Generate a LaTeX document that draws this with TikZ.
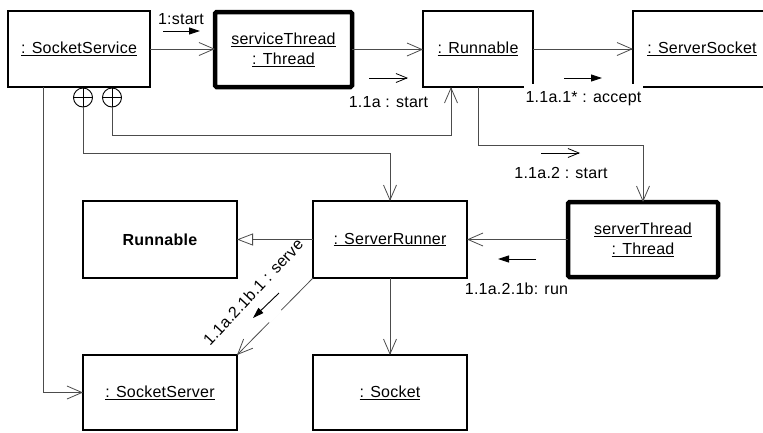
\documentclass[tikz,border=0pt]{standalone}
\usepackage{fontspec}
\setmainfont{Liberation Sans}[LetterSpace=1.5]
\usetikzlibrary{arrows.meta}
\tikzset{
  obj/.style={draw=black, line width=1.2pt, inner sep=0pt, outer sep=0pt, align=center, fill=white},
  thickobj/.style={obj, line width=4.5pt, rounded corners=1.5pt},
  conn/.style={draw=black!70, line width=0.8pt},
  openarr/.style={-{Straight Barb[length=15pt,width=13pt]}},
  msgfill/.style={draw=black, line width=0.9pt, -{Triangle[length=11pt,width=7pt]}},
  msgopen/.style={draw=black, line width=0.8pt, -{Straight Barb[length=11pt,width=9pt]}},
  lbl/.style={fill=white, inner sep=1.5pt},
  gen/.style={-{Triangle[open,length=16pt,width=12pt,fill=white]}},
  ball/.style={circle, draw=black, line width=0.9pt, minimum size=19pt, inner sep=0pt, outer sep=0pt, fill=white},
}
\begin{document}
\begin{tikzpicture}[x=1pt, y=-1pt, font=\fontsize{16}{20}\selectfont]
\useasboundingbox (0,0) rectangle (763,432);
\clip (0,0) rectangle (763,432);
\fill[white] (0,0) rectangle (763,432);

% objects
\node[obj, minimum width=142pt, minimum height=76pt] (ss) at (79,49) {\underline{: SocketService}};
\node[thickobj, minimum width=137pt, minimum height=75pt] (st) at (283.5,49.5) {\underline{serviceThread}\\\underline{: Thread}};
\node[obj, minimum width=110pt, minimum height=76pt] (rn) at (478,49) {\underline{: Runnable}};
\node[obj, minimum width=138pt, minimum height=76pt] (ssock) at (702,49) {\underline{: ServerSocket}};
\node[obj, minimum width=154pt, minimum height=77pt] (rc) at (160,239.5) {\textbf{Runnable}};
\node[obj, minimum width=154pt, minimum height=77pt] (sr) at (390,239.5) {\underline{: ServerRunner}};
\node[thickobj, minimum width=150pt, minimum height=75pt] (sth) at (643,239.5) {\underline{serverThread}\\\underline{: Thread}};
\node[obj, minimum width=154pt, minimum height=75pt] (ssv) at (160,392.5) {\underline{: SocketServer}};
\node[obj, minimum width=154pt, minimum height=75pt] (sk) at (390,392.5) {\underline{: Socket}};

% coordinates for bends and free ends
\coordinate (k1) at (83,153);
\coordinate (k2) at (112,135);
\coordinate (rnin) at (451,87);
\coordinate (ssout) at (43,87);
\coordinate (rnout) at (478,87);
\coordinate (k3) at (478,145);

% connectors
\draw[conn,openarr] (ss.east) -- (ss.east -| st.west);
\draw[conn,openarr] (st.east) -- (st.east -| rn.west);
\draw[conn,openarr] (rn.east) -- (ssock.west);
\draw[conn,openarr] (ssout) |- (ssv.west);
\draw[conn,openarr] (rnout) -- (k3) -| (sth.north);
\draw[conn,openarr] (sth.west) -- (sr.east);
\draw[conn,gen] (sr.west) -- (rc.east);
\draw[conn,openarr] (sr.south) -- (sk.north);
\draw[conn,openarr] (sr.south west) -- (ssv.north east);

% association ends (balls)
\node[ball] (b1) at (83,97.5) {};
\node[ball] (b2) at (112,97.5) {};
\draw[line width=0.9pt] (b1.north) -- (b1.south) (b1.west) -- (b1.east);
\draw[line width=0.9pt] (b2.north) -- (b2.south) (b2.west) -- (b2.east);
\draw[conn,openarr] (b1.south) -- (k1) -| (sr.north);
\draw[conn,openarr] (b2.south) -- (k2) -| (rnin);

% messages
\coordinate (m1a) at (163,31);  \coordinate (m1b) at (200,31);
\coordinate (m2a) at (369,78);  \coordinate (m2b) at (408,78);
\coordinate (m3a) at (564,78);  \coordinate (m3b) at (602,78);
\coordinate (m4a) at (541,153); \coordinate (m4b) at (580,153);
\coordinate (m5a) at (536,259); \coordinate (m5b) at (498,259);
\coordinate (m6a) at (279,293); \coordinate (m6b) at (253,318);

% gap in the serve connector behind the message arrow
\draw[white, line width=2.5pt] (281,310) -- (269,322);

\draw[msgfill] (m1a) -- (m1b);
\draw[msgopen] (m2a) -- (m2b);
\draw[msgfill] (m3a) -- (m3b);
\draw[msgopen] (m4a) -- (m4b);
\draw[msgfill] (m5a) -- (m5b);
\draw[msgfill] (m6a) -- (m6b);

\node[lbl] (l1) at (181,19) {1:start};
\node[lbl] (l2) at (388.5,102.5) {1.1a : start};
\node[lbl, inner ysep=8pt] (l3) at (583.5,99) {1.1a.1* : accept};
\node[lbl] (l4) at (561,172.5) {1.1a.2 : start};
\node[lbl] (l5) at (516.5,289) {1.1a.2.1b: run};
\node[inner sep=0pt, rotate=47] (l6) at (253,292) {1.1a.2.1b.1 : serve};
\end{tikzpicture}
\end{document}
